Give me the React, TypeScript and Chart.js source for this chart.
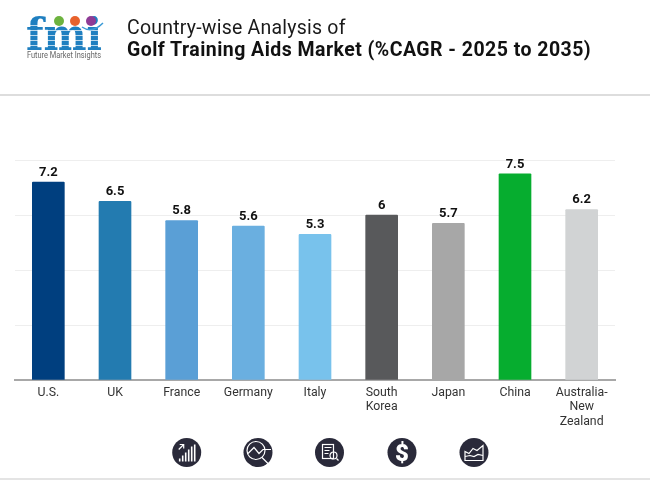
import React, { useEffect, useRef } from "react";
import { Chart, registerables } from "chart.js";

Chart.register(...registerables);

const categories = ["U.S.", "UK", "France", "Germany", "Italy", ["South", "Korea"], "Japan", "China", ["Australia-", "New", "Zealand"]];
const cagrValues = [7.2, 6.5, 5.8, 5.6, 5.3, 6, 5.7, 7.5, 6.2];
const barColors = ["#003f7f", "#237bb0", "#5a9fd6", "#6aafe0", "#78c2ec", "#58595b", "#a7a7a7", "#06ad2f", "#d1d3d4"];
const titleLines = ["Country-wise Analysis of", "Golf Training Aids Market (%CAGR - 2025 to 2035)"];
const logoText = "Future Market Insights";

const valueLabels = {
  id: "valueLabels",
  afterDatasetsDraw(chart: any) {
    const { ctx } = chart;
    const meta = chart.getDatasetMeta(0);
    ctx.save();
    ctx.font = "700 13px Roboto";
    ctx.fillStyle = "#111";
    ctx.textAlign = "center";
    ctx.textBaseline = "bottom";
    meta.data.forEach((bar: any, i: number) => {
      ctx.fillText(String(cagrValues[i]), bar.x, bar.y - 3);
    });
    ctx.restore();
  },
};

const Icon = ({ cx, children }: { cx: number; children?: React.ReactNode }) => (
  <g transform={`translate(${cx} 452.5)`}>
    <circle r="14.5" fill="#2a2a3a" />
    <g stroke="#fff" strokeWidth="1.2" fill="none">{children}</g>
  </g>
);

export default function App() {
  const ref = useRef<HTMLCanvasElement>(null);
  useEffect(() => {
    const chart = new Chart(ref.current!, {
      type: "bar",
      data: {
        labels: categories as any,
        datasets: [{
          data: cagrValues,
          backgroundColor: barColors,
          barThickness: 32,
          borderRadius: { topLeft: 1, topRight: 1 },
          borderSkipped: "bottom",
        }],
      },
      options: {
        animation: false,
        responsive: false,
        layout: { padding: { left: 15, right: 35, top: 160, bottom: 0 } },
        plugins: { legend: { display: false }, tooltip: { enabled: false }, title: { display: false } },
        scales: {
          x: {
            grid: { display: false, drawTicks: false },
            border: { color: "#a8a8a8", width: 2 },
            afterFit: (s: any) => { s.height = 100; },
            ticks: { color: "#333", font: { family: "Roboto", size: 12.3, lineHeight: 1.18 }, padding: 5.5, maxRotation: 0, autoSkip: false },
          },
          y: {
            min: 0,
            max: 8,
            afterFit: (s: any) => { s.width = 0; },
            ticks: { display: false, stepSize: 2 },
            grid: { color: "#eeeeee", drawTicks: false },
            border: { display: false },
          },
        },
      },
      plugins: [valueLabels],
    } as any);
    return () => chart.destroy();
  }, []);

  return (
    <div style={{ position: "absolute", left: 0, top: 0, width: 650, height: 480, background: "#fff", overflow: "hidden" }}>
      <canvas ref={ref} width={650} height={480} style={{ position: "absolute", left: 0, top: 0, width: 650, height: 480 }} />
      <div style={{ position: "absolute", left: 127, top: 15, fontFamily: "Roboto", fontSize: 19.5, letterSpacing: 0.22, lineHeight: "25px", color: "#1a1a1a", whiteSpace: "nowrap" }}>{titleLines[0]}</div>
      <div style={{ position: "absolute", left: 127, top: 37, fontFamily: "Roboto", fontWeight: 700, fontSize: 19.5, letterSpacing: 0.46, lineHeight: "25px", color: "#111", whiteSpace: "nowrap" }}>{titleLines[1]}</div>
      <div style={{ position: "absolute", left: 0, top: 94, width: 650, height: 2, background: "#dddddd" }} />
      <div style={{ position: "absolute", left: 0, top: 478, width: 650, height: 2, background: "#e4e4e4" }} />
      <svg width="650" height="480" style={{ position: "absolute", left: 0, top: 0 }}>
        <text x="26" y="50" fontFamily="DejaVu Serif" fontWeight="700" fontSize="44" fill="#1f7fc0" textLength="76" lengthAdjust="spacingAndGlyphs">fmi</text>
        {[25, 30, 35, 40, 45].map((y) => <rect key={y} x="25" y={y} width="80" height="0.7" fill="#fff" />)}
        <circle cx="59" cy="21" r="5" fill="#6db33f" />
        <circle cx="75" cy="21" r="5" fill="#e8622c" />
        <circle cx="91" cy="21" r="5" fill="#8e3b96" />
        <path d="M82 27 Q92 34 103 23" stroke="#3b9bd6" strokeWidth="1.5" fill="none" />
        <text x="27" y="58" fontFamily="Roboto" fontSize="8.4" fill="#666" textLength="74" lengthAdjust="spacingAndGlyphs">{logoText}</text>
        <Icon cx={186.7}>
          <path d="M-8 -3 L-3 -8 M-7 -8 H-3 V-4" />
          <path d="M-7 9 V6 M-4 9 V3 M-1 9 V0 M2 9 V-3 M5 9 V-6 M8 9 V-8" strokeWidth="1.6" />
        </Icon>
        <Icon cx={258}>
          <circle cx="-2" cy="-2" r="9" />
          <path d="M-10 1 L-4 -5 L1 1 L5 -3 H13 M4 5 L11 12" />
        </Icon>
        <Icon cx={329.5}>
          <rect x="-7" y="-8" width="11" height="14" />
          <path d="M-5 -5 H2 M-5 -2 H0 M-5 1 H-1" />
          <circle cx="4" cy="3" r="3.5" />
          <path d="M7 6 L9 8" />
        </Icon>
        <Icon cx={402}>
          <text x="0" y="8" textAnchor="middle" fontFamily="Roboto" fontWeight="900" fontSize="24" fill="#fff" stroke="none">$</text>
        </Icon>
        <Icon cx={474}>
          <path d="M-9 -1 V8 H9 V-7 L3 -2 L-1 -4 L-5 1 Z" />
          <path d="M-9 4 L-4 3 L0 4 L4 2 L9 3" />
        </Icon>
      </svg>
    </div>
  );
}
